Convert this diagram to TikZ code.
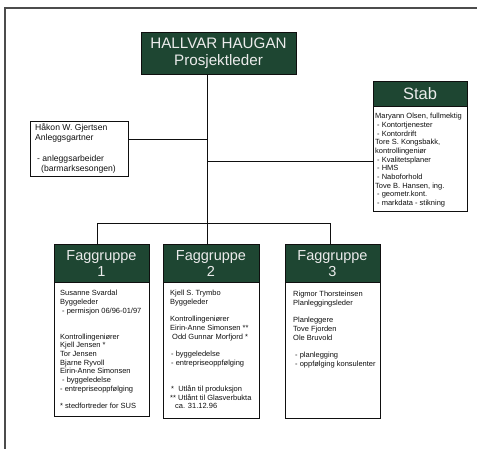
\documentclass[tikz,border=0pt]{standalone}
\usepackage{fontspec}
\setmainfont{Liberation Sans}
\definecolor{dg}{RGB}{30,70,50}
\definecolor{ink}{RGB}{15,15,15}
\begin{document}
\begin{tikzpicture}[x=1pt,y=-1pt,
  box/.style={draw=ink, line width=1pt, anchor=north west, inner sep=0pt},
  head/.style={fill=dg, draw=ink, line width=1pt, anchor=north west, inner sep=0pt},
  htext/.style={text=white!92!black, font=\fontsize{14.5}{16}\selectfont, align=center, inner sep=0pt},
  small/.style={anchor=north west, inner sep=0pt, align=left, text=ink, font=\fontsize{7.5}{8.7}\selectfont},
  conn/.style={line width=1pt, draw=ink}]
\useasboundingbox (0,0) rectangle (488,449);
% frame
\draw[line width=1.3pt, black!70] (5,449) -- (5,8) -- (477,8);
% top
\node[head, minimum width=155, minimum height=42] (top) at (141,32) {};
\node[htext, font=\fontsize{15.2}{17}\selectfont] (toptext) at (218.5,53.5) {HALLVAR HAUGAN\\Prosjektleder};
% Stab
\node[box, minimum width=94, minimum height=130] (stab) at (373,81) {};
\node[head, minimum width=94, minimum height=25] (stabh) at (373,81) {};
\node[htext, font=\fontsize{16.5}{18}\selectfont] (stabt) at (420,93.5) {Stab};
\node[small] (stabtx) at (375,113) {Maryann Olsen, fullmektig\\\hspace{2pt}- Kontortjenester\\\hspace{2pt}- Kontordrift\\Tore S. Kongsbakk,\\kontrollingeniør\\\hspace{2pt}- Kvalitetsplaner\\\hspace{2pt}- HMS\\\hspace{2pt}- Naboforhold\\Tove B. Hansen, ing.\\\hspace{2pt}- geometr.kont.\\\hspace{2pt}- markdata - stikning};
% Hakon
\node[box, minimum width=98, minimum height=55] (hakon) at (30,121) {};
\node[small, font=\fontsize{8.6}{10.3}\selectfont] (hakontx) at (35,123.5) {Håkon W. Gjertsen\\Anleggsgartner\\[10.3pt]\hspace{2pt}- anleggsarbeider\\\hspace{6pt}(barmarksesongen)};
% Faggruppe 1
\node[box, minimum width=95, minimum height=172] (fag1) at (54,244) {};
\node[head, minimum width=95, minimum height=38] (fag1h) at (54,244) {};
\node[htext] (fag1t) at (101.5,264) {Faggruppe\\1};
\node[small] (fag1tx) at (60,290) {Susanne Svardal\\Byggeleder\\\hspace{2pt}- permisjon 06/96-01/97\\[17.4pt]Kontrollingeniører\\Kjell Jensen *\\Tor Jensen\\Bjarne Ryvoll\\Eirin-Anne Simonsen\\\hspace{2pt}- byggeledelse\\- entrepriseoppfølging\\[8.7pt]* stedfortreder for SUS};
% Faggruppe 2
\node[box, minimum width=96, minimum height=174] (fag2) at (163,244) {};
\node[head, minimum width=96, minimum height=38] (fag2h) at (163,244) {};
\node[htext] (fag2t) at (211,264) {Faggruppe\\2};
\node[small] (fag2tx) at (170,290) {Kjell S. Trymbo\\Byggeleder\\[8.7pt]Kontrollingeniører\\Eirin-Anne Simonsen **\\\hspace{2pt}Odd Gunnar Morfjord *\\[8.7pt]\hspace{1pt}- byggeledelse\\\hspace{1pt}- entrepriseoppfølging\\[17.4pt]\hspace{1pt}*\ \ Utlån til produksjon\\** Utlånt til Glasverbukta\\\hspace{5pt}ca. 31.12.96};
% Faggruppe 3
\node[box, minimum width=95, minimum height=174] (fag3) at (285,244) {};
\node[head, minimum width=95, minimum height=38] (fag3h) at (285,244) {};
\node[htext] (fag3t) at (332.5,264) {Faggruppe\\3};
\node[small] (fag3tx) at (293,291) {Rigmor Thorsteinsen\\Planleggingsleder\\[8.7pt]Planleggere\\Tove Fjorden\\Ole Bruvold\\[8.7pt]\hspace{2pt}- planlegging\\\hspace{2pt}- oppfølging konsulenter};
% connectors
\coordinate (tr) at (207,0);
\coordinate (hk) at (207,140);
\coordinate (sk) at (207,162);
\coordinate (b1) at (97,224);
\coordinate (b3) at (330,224);
\draw[conn] (top.south -| tr) -- (fag2.north -| tr);
\draw[conn] (hk) -- (hakon.east |- hk);
\draw[conn] (sk) -- (stab.west |- sk);
\draw[conn] (fag1.north -| b1) -- (b1) -- (b3) -- (fag3.north -| b3);
\end{tikzpicture}
\end{document}
